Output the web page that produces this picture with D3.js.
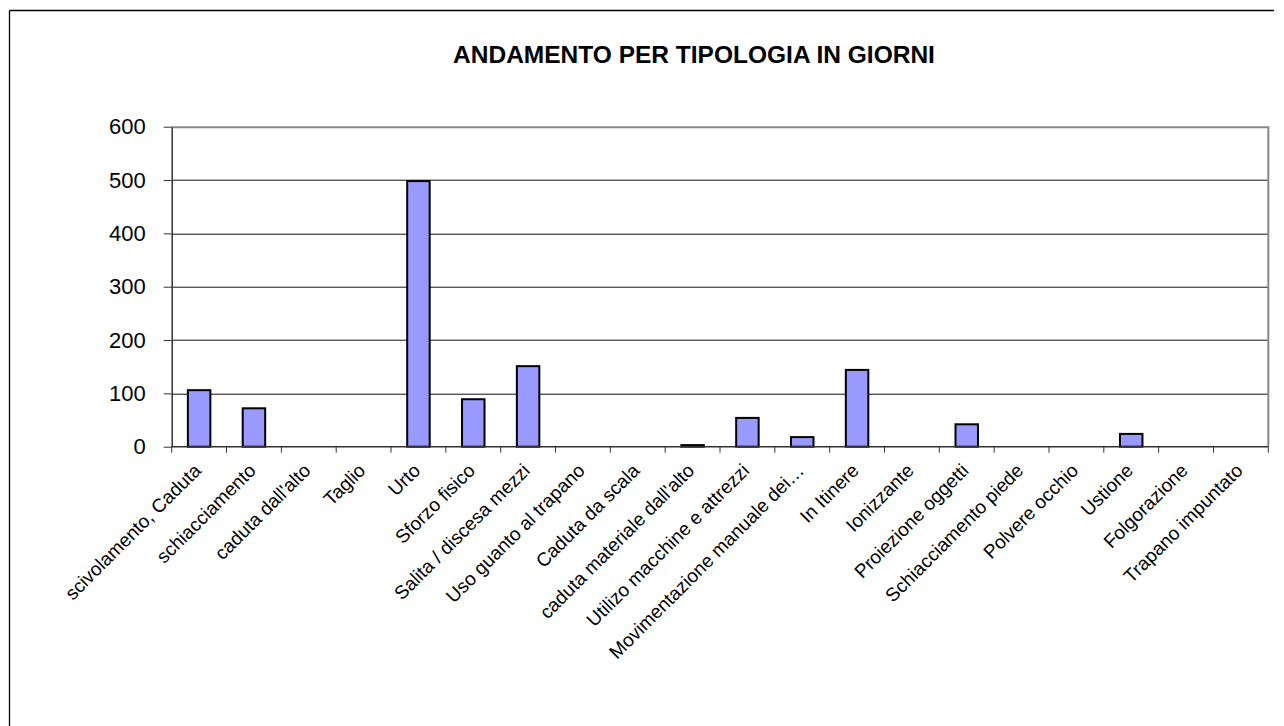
<!DOCTYPE html>
<html>
<head>
<meta charset="utf-8">
<script src="https://cdn.jsdelivr.net/npm/d3@7"></script>
<style>
	body { margin: 0; background: #fff; }
	svg text { font-family: Arial, "Liberation Sans", sans-serif; }
</style>
</head>
<body>
<svg id="chart"></svg>
<script>
// Chart data
const categories = [
	"scivolamento, Caduta",
	"schiacciamento",
	"caduta dall'alto",
	"Taglio",
	"Urto",
	"Sforzo fisico",
	"Salita / discesa mezzi",
	"Uso guanto al trapano",
	"Caduta da scala",
	"caduta materiale dall'alto",
	"Utilizo macchine e attrezzi",
	"Movimentazione manuale dei…",
	"In Itinere",
	"Ionizzante",
	"Proiezione oggetti",
	"Schiacciamento piede",
	"Polvere occhio",
	"Ustione",
	"Folgorazione",
	"Trapano impuntato",
];
const giorni = [106, 72, 0, 0, 498, 89, 151, 0, 0, 3, 54, 18, 144, 0, 42, 0, 0, 24, 0, 0];
const yTicks = [0, 100, 200, 300, 400, 500, 600];
const title = "ANDAMENTO PER TIPOLOGIA IN GIORNI";

// Dimensions
const width = 1284;
const height = 726;

const margin = {
	top: 126.7,
	right: 15.7,
	bottom: 279.3,
	left: 171.7,
};

const innerWidth = width - margin.left - margin.right;
const innerHeight = height - margin.top - margin.bottom;

const svg = d3.select("#chart")
	.attr("width", width)
	.attr("height", height);

// outer frame (top + left only visible)
svg.append("line")
	.attr("x1", 9.5).attr("x2", 1274).attr("y1", 10.5).attr("y2", 10.5)
	.attr("stroke", "#000").attr("stroke-width", 1.3);
svg.append("line")
	.attr("x1", 9.5).attr("x2", 9.5).attr("y1", 10.5).attr("y2", height)
	.attr("stroke", "#000").attr("stroke-width", 1.3);

// title
svg.append("text")
	.attr("x", 694)
	.attr("y", 63)
	.attr("text-anchor", "middle")
	.style("font-size", "24.5px")
	.style("font-weight", "bold")
	.text(title);

const g = svg.append("g")
	.attr("transform", `translate(${margin.left}, ${margin.top})`);

const xScale = d3.scaleBand()
	.domain(categories)
	.range([0, innerWidth]);

const yScale = d3.scaleLinear()
	.domain([0, 600])
	.range([innerHeight, 0]);

// gridlines
g.selectAll(".grid")
	.data(yTicks.filter((t) => t > 0 && t < 600))
	.join("line")
	.attr("class", "grid")
	.attr("x1", 0)
	.attr("x2", innerWidth)
	.attr("y1", (d) => Math.round(yScale(d)) + 0.5)
	.attr("y2", (d) => Math.round(yScale(d)) + 0.5)
	.attr("stroke", "#111")
	.attr("stroke-width", 1);

// plot area top & right border (gray)
g.append("path")
	.attr("d", `M0,0.5H${innerWidth}V${innerHeight}`)
	.attr("fill", "none")
	.attr("stroke", "#888")
	.attr("stroke-width", 2);

// bars
const barW = xScale.bandwidth() * 0.41;
g.selectAll(".bar")
	.data(giorni.map((v, i) => ({ cat: categories[i], v: v })).filter((d) => d.v > 0))
	.join("rect")
	.attr("class", "bar")
	.attr("x", (d) => xScale(d.cat) + (xScale.bandwidth() - barW) / 2)
	.attr("y", (d) => yScale(d.v))
	.attr("width", barW)
	.attr("height", (d) => innerHeight - yScale(d.v))
	.attr("fill", "#9999ff")
	.attr("stroke", "#000")
	.attr("stroke-width", 2);

// y axis
const yAxis = g.append("g")
	.call(d3.axisLeft(yScale).tickValues(yTicks).tickSize(8).tickSizeOuter(0).tickPadding(18));
yAxis.select(".domain").attr("stroke", "#333").attr("stroke-width", 1.5);
yAxis.selectAll(".tick line").attr("stroke", "#333");
yAxis.selectAll("text")
	.style("font-size", "22px")
	.attr("fill", "#000");

// x axis: ticks on category boundaries
const xAxisG = g.append("g")
	.attr("transform", `translate(0, ${innerHeight})`);
xAxisG.append("line")
	.attr("x1", 0).attr("x2", innerWidth)
	.attr("y1", 0).attr("y2", 0)
	.attr("stroke", "#333").attr("stroke-width", 1.5);
xAxisG.selectAll(".xtick")
	.data(categories.concat([null]))
	.join("line")
	.attr("class", "xtick")
	.attr("x1", (d, i) => i * xScale.step())
	.attr("x2", (d, i) => i * xScale.step())
	.attr("y1", 0)
	.attr("y2", 6)
	.attr("stroke", "#333");

xAxisG.selectAll(".xlabel")
	.data(categories)
	.join("text")
	.attr("class", "xlabel")
	.attr("text-anchor", "end")
	.attr("transform", (d) => `translate(${xScale(d) + xScale.bandwidth() / 2 + 3}, 25) rotate(-45)`)
	.style("font-size", "19px")
	.text((d) => d);
</script>
</body>
</html>
